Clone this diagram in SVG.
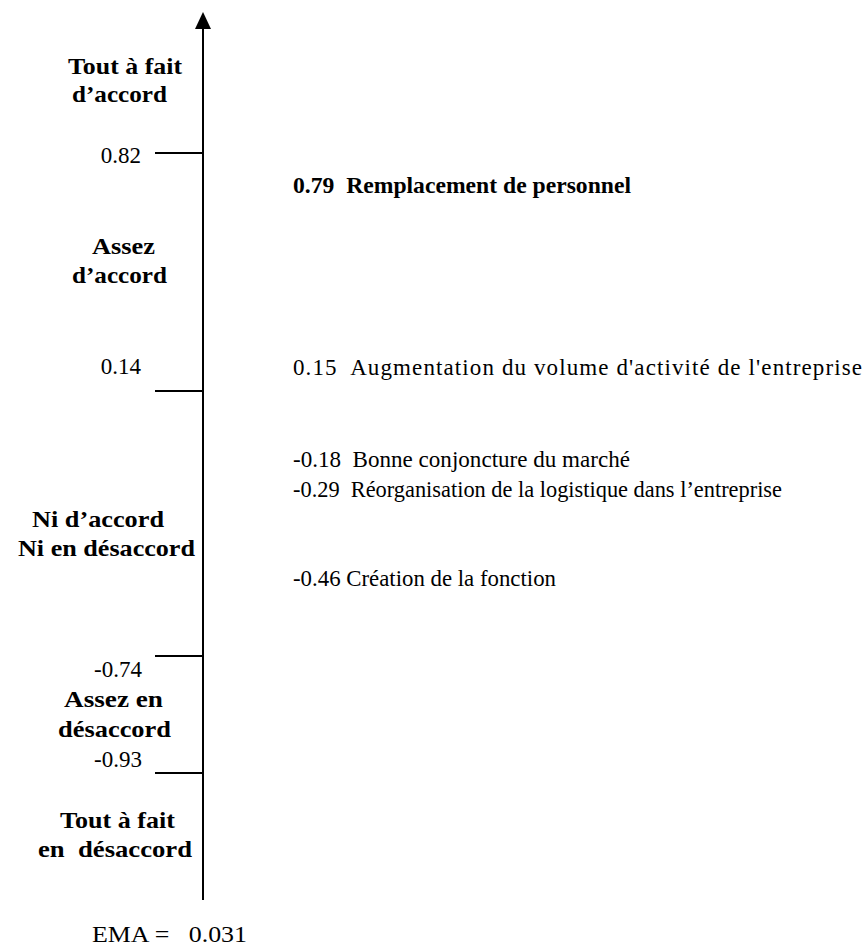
<svg xmlns="http://www.w3.org/2000/svg" width="867" height="949" viewBox="0 0 867 949">
<style>
text{font-family:"Liberation Serif","DejaVu Serif",serif;font-size:23px;fill:#000}
.b{font-weight:bold}
.m{text-anchor:middle}
.e{text-anchor:end}
.ln{stroke:#000;stroke-width:2;fill:none}
</style>
<rect width="867" height="949" fill="#fff"/>
<g id="connectors">
<line class="ln" x1="203" y1="900" x2="203" y2="28"/>
<path d="M203,12 L211,29 L195,29 z" fill="#000"/>
<line class="ln" x1="155" y1="153" x2="203" y2="153"/>
<line class="ln" x1="155" y1="391" x2="203" y2="391"/>
<line class="ln" x1="155" y1="656" x2="203" y2="656"/>
<line class="ln" x1="155" y1="773" x2="203" y2="773"/>
</g>
<g id="scale">
<text class="b m" x="125" y="74" textLength="114" lengthAdjust="spacingAndGlyphs">Tout à fait</text>
<text class="b m" x="119.5" y="102" textLength="95" lengthAdjust="spacingAndGlyphs">d’accord</text>
<text class="e" x="141" y="163">0.82</text>
<text class="b m" x="123.5" y="254" textLength="63" lengthAdjust="spacingAndGlyphs">Assez</text>
<text class="b m" x="119.5" y="283" textLength="95" lengthAdjust="spacingAndGlyphs">d’accord</text>
<text class="e" x="141" y="374">0.14</text>
<text class="b m" x="98" y="527" textLength="132" lengthAdjust="spacingAndGlyphs">Ni d’accord</text>
<text class="b m" x="106.5" y="556" textLength="177" lengthAdjust="spacingAndGlyphs">Ni en désaccord</text>
<text class="e" x="142" y="677">-0.74</text>
<text class="b m" x="113.5" y="707" textLength="99" lengthAdjust="spacingAndGlyphs">Assez en</text>
<text class="b m" x="114.5" y="737" textLength="113" lengthAdjust="spacingAndGlyphs">désaccord</text>
<text class="e" x="142" y="767">-0.93</text>
<text class="b m" x="117.5" y="828" textLength="115" lengthAdjust="spacingAndGlyphs">Tout à fait</text>
<text class="b m" x="115" y="857" xml:space="preserve" textLength="154" lengthAdjust="spacingAndGlyphs">en  désaccord</text>
<text x="92" y="942" xml:space="preserve" textLength="155" lengthAdjust="spacingAndGlyphs">EMA =   0.031</text>
</g>
<g id="items">
<text class="b" x="293" y="193" xml:space="preserve" textLength="338" lengthAdjust="spacingAndGlyphs">0.79  Remplacement de personnel</text>
<text x="293" y="375" xml:space="preserve" textLength="569" lengthAdjust="spacing">0.15  Augmentation du volume d'activité de l'entreprise</text>
<text x="293" y="467" xml:space="preserve" textLength="337" lengthAdjust="spacingAndGlyphs">-0.18  Bonne conjoncture du marché</text>
<text x="293" y="497" xml:space="preserve" textLength="489" lengthAdjust="spacingAndGlyphs">-0.29  Réorganisation de la logistique dans l’entreprise</text>
<text x="293" y="586" textLength="263" lengthAdjust="spacingAndGlyphs">-0.46 Création de la fonction</text>
</g>
</svg>
